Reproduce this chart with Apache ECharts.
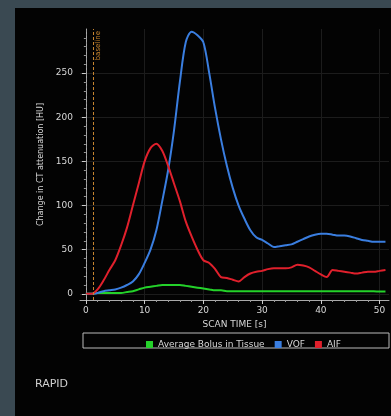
<!DOCTYPE html>
<html>
<head>
<meta charset="utf-8">
<script src="https://cdn.jsdelivr.net/npm/echarts@6/dist/echarts.min.js"></script>
<style>
  html, body { margin: 0; padding: 0; background: #3a4952; }
  #main { position: absolute; left: 15px; top: 8px; width: 376px; height: 408px; background: #030303; }
  #wrap { position: relative; width: 391px; height: 416px; }
</style>
</head>
<body>
<div id="wrap"><div id="main"></div></div>
<script>
// scan time in seconds
var times = [0,1,2,3,4,5,6,7,8,9,10,11,12,13,14,15,16,17,18,19,20,21,22,23,24,25,26,27,28,29,30,
  31,32,33,34,35,36,37,38,39,40,41,42,43,44,45,46,47,48,49,50,51];
var vof = [0,0,1,3,4,5,7,10,14,22,35,50,72,105,140,185,240,285,297,293,285,250,210,175,145,120,100,85,72,64,61,
  57,53,54,55,56,59,62,65,67,68,68,67,66,66,65,63,61,60,59,59,59];
var aif = [0,0,5,15,27,38,55,75,100,125,150,165,170,162,145,125,105,82,65,50,38,35,28,19,18,16,14,19,23,25,26,
  28,29,29,29,30,33,32,30,26,22,19,27,26,25,24,23,24,25,25,26,27];
var tissue = [0,0,1,1,1,1,1,2,3,5,7,8,9,10,10,10,10,9,8,7,6,5,4,4,3,3,3,3,3,3,3,
  3,3,3,3,3,3,3,3,3,3,3,3,3,3,3,3,3,3,3,2.5,2.5];
var xTicks = [0, 10, 20, 30, 40, 50];
var yTicks = [0, 50, 100, 150, 200, 250];
var baselineT = 1.2;

function pairs(vals) {
  return times.map(function (t, i) { return [t, vals[i]]; });
}

var myChart = echarts.init(document.getElementById('main'));
var txt = '#d8d8d8';
var option = {
  backgroundColor: '#030303',
  animation: false,
  grid: { left: 65, right: 2, top: 21, bottom: 116 },
  legend: {
    data: ['Average Bolus in Tissue', 'VOF', 'AIF'],
    left: 126,
    top: 327,
    itemWidth: 7,
    itemHeight: 7,
    itemGap: 10,
    icon: 'rect',
    textStyle: { color: txt, fontSize: 9, fontFamily: 'DejaVu Sans' }
  },
  graphic: [
    { type: 'rect', shape: { x: 68, y: 325, width: 306, height: 15 },
      style: { fill: 'none', stroke: '#bbbbbb', lineWidth: 1 } },
    { type: 'text', left: 20, top: 371,
      style: { text: 'RAPID', fill: '#cfcfcf', fontSize: 11, fontFamily: 'DejaVu Sans' } }
  ],
  xAxis: {
    type: 'value',
    min: -1,
    max: 51.6,
    name: 'SCAN TIME [s]',
    nameLocation: 'middle',
    nameGap: 17,
    nameTextStyle: { color: txt, fontSize: 9, fontFamily: 'DejaVu Sans' },
    axisLine: { onZero: false, lineStyle: { color: '#aaaaaa' } },
    axisTick: { customValues: xTicks, length: 4, lineStyle: { color: '#cccccc' } },
    minorTick: { show: true, splitNumber: 5, length: 2, lineStyle: { color: '#999999' } },
    axisLabel: { customValues: xTicks, color: txt, fontSize: 9, fontFamily: 'DejaVu Sans', margin: 6 },
    splitLine: { show: true, lineStyle: { color: '#1c1c1c' } }
  },
  yAxis: {
    type: 'value',
    min: -7,
    max: 300,
    name: 'Change in CT attenuation [HU]',
    nameLocation: 'middle',
    nameGap: 32,
    nameTextStyle: { color: txt, fontSize: 8, fontFamily: 'DejaVu Sans' },
    axisLine: { show: true, lineStyle: { color: '#aaaaaa' } },
    axisTick: { show: true, customValues: yTicks, length: 4, lineStyle: { color: '#cccccc' } },
    minorTick: { show: true, splitNumber: 5, length: 2, lineStyle: { color: '#999999' } },
    axisLabel: { customValues: yTicks, color: txt, fontSize: 9, fontFamily: 'DejaVu Sans', margin: 7 },
    splitLine: { show: true, lineStyle: { color: '#1c1c1c' } }
  },
  series: [
    {
      name: 'Average Bolus in Tissue', type: 'line', data: pairs(tissue),
      showSymbol: false, smooth: 0.3, color: '#24d22a', lineStyle: { width: 2 },
      markLine: {
        silent: true, symbol: 'none',
        data: [
          { xAxis: 0, lineStyle: { color: '#9a9a9a', type: [2, 2], width: 1 }, label: { show: false } },
          { xAxis: baselineT, lineStyle: { color: '#c7852f', type: [3, 2], width: 1 },
            label: { show: true, formatter: 'baseline', position: 'insideEndBottom', color: '#c7852f',
                     fontSize: 7, fontFamily: 'DejaVu Sans', distance: 2 } }
        ]
      }
    },
    { name: 'VOF', type: 'line', data: pairs(vof), showSymbol: false, smooth: 0.3,
      color: '#3a7ee0', lineStyle: { width: 2 } },
    { name: 'AIF', type: 'line', data: pairs(aif), showSymbol: false, smooth: 0.3,
      color: '#e0202c', lineStyle: { width: 2 } }
  ]
};
myChart.setOption(option);
</script>
</body>
</html>
